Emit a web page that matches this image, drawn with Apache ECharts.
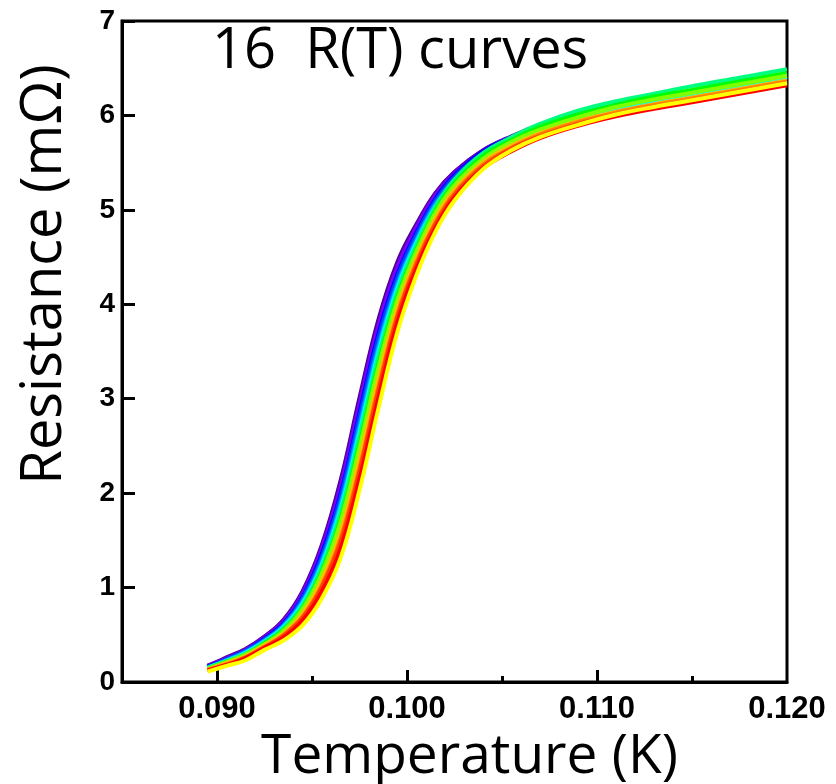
<!DOCTYPE html>
<html>
<head>
<meta charset="utf-8">
<script src="https://cdn.jsdelivr.net/npm/echarts@6/dist/echarts.min.js"></script>
<style>
html,body{margin:0;padding:0;background:#fff;}
#chart{width:836px;height:784px;}
</style>
</head>
<body>
<div id="chart"></div>
<script>
// Temperature grid (K)
const temperature = [0.0895,0.0905,0.0915,0.0925,0.0935,0.0945,0.0955,0.0965,0.0975,0.0985,0.0995,0.1005,0.1015,0.1025,0.1040,0.1055,0.1070,0.1090,0.1110,0.1130,0.1150,0.1175,0.1200];

// Resistance (mΩ) of the 16 R(T) curves
const curve01 = [0.17,0.26,0.35,0.48,0.66,0.96,1.44,2.13,3.01,3.84,4.45,4.85,5.18,5.40,5.63,5.77,5.89,6.00,6.10,6.17,6.24,6.33,6.42];
const curve02 = [0.17,0.25,0.34,0.48,0.65,0.95,1.42,2.09,2.97,3.80,4.42,4.83,5.17,5.40,5.63,5.78,5.90,6.02,6.11,6.19,6.26,6.35,6.44];
const curve03 = [0.16,0.25,0.34,0.47,0.64,0.93,1.40,2.06,2.93,3.77,4.39,4.81,5.15,5.38,5.62,5.77,5.89,6.01,6.10,6.18,6.25,6.34,6.43];
const curve04 = [0.16,0.24,0.33,0.46,0.62,0.90,1.35,1.99,2.85,3.69,4.32,4.76,5.12,5.37,5.62,5.77,5.89,6.02,6.11,6.19,6.26,6.36,6.44];
const curve05 = [0.16,0.24,0.33,0.45,0.61,0.89,1.32,1.96,2.81,3.65,4.29,4.74,5.10,5.35,5.60,5.76,5.88,6.01,6.10,6.18,6.25,6.34,6.43];
const curve06 = [0.15,0.23,0.32,0.44,0.60,0.86,1.28,1.89,2.73,3.57,4.23,4.69,5.07,5.32,5.58,5.74,5.86,5.98,6.08,6.16,6.23,6.32,6.41];
const curve07 = [0.15,0.23,0.31,0.43,0.59,0.84,1.25,1.86,2.68,3.53,4.20,4.67,5.05,5.30,5.57,5.72,5.85,5.97,6.07,6.15,6.22,6.31,6.40];
const curve08 = [0.15,0.22,0.31,0.43,0.58,0.83,1.23,1.82,2.64,3.49,4.17,4.65,5.03,5.30,5.56,5.73,5.85,5.98,6.08,6.16,6.23,6.32,6.41];
const curve09 = [0.15,0.22,0.30,0.42,0.57,0.81,1.21,1.79,2.60,3.45,4.14,4.63,5.03,5.32,5.60,5.77,5.91,6.05,6.15,6.23,6.31,6.40,6.49];
const curve10 = [0.14,0.21,0.29,0.41,0.55,0.78,1.16,1.72,2.52,3.37,4.08,4.58,4.99,5.28,5.57,5.74,5.88,6.01,6.11,6.20,6.27,6.36,6.45];
const curve11 = [0.14,0.21,0.29,0.40,0.54,0.77,1.14,1.69,2.48,3.33,4.05,4.56,4.97,5.26,5.54,5.72,5.85,5.98,6.09,6.17,6.24,6.33,6.42];
const curve12 = [0.13,0.20,0.27,0.39,0.51,0.72,1.07,1.58,2.36,3.21,3.96,4.49,4.91,5.21,5.50,5.68,5.81,5.94,6.04,6.12,6.19,6.28,6.37];
const curve13 = [0.13,0.19,0.26,0.37,0.50,0.69,1.02,1.52,2.27,3.13,3.90,4.45,4.87,5.18,5.48,5.66,5.80,5.93,6.03,6.11,6.18,6.27,6.36];
const curve14 = [0.12,0.18,0.26,0.37,0.49,0.68,1.00,1.48,2.23,3.09,3.87,4.42,4.85,5.16,5.46,5.65,5.78,5.91,6.01,6.09,6.16,6.25,6.34];
const curve15 = [0.12,0.18,0.25,0.36,0.47,0.65,0.95,1.41,2.15,3.01,3.81,4.38,4.81,5.13,5.44,5.62,5.76,5.89,5.99,6.07,6.14,6.23,6.32];
const curve16 = [0.11,0.17,0.23,0.34,0.44,0.60,0.88,1.31,2.03,2.90,3.71,4.31,4.77,5.10,5.43,5.63,5.77,5.90,6.01,6.09,6.16,6.25,6.34];

const curves = [curve01,curve02,curve03,curve04,curve05,curve06,curve07,curve08,curve09,curve10,curve11,curve12,curve13,curve14,curve15,curve16];
const curveColors = ['#4b0082','#6000c0','#8000ff','#0000ff','#0040ff','#0080ff','#00bfff','#00ffff','#00ff80','#00ff00','#80ff00','#ffbf00','#ff8000','#ff4000','#ff0000','#ffff00'];

// Axis ticks / labels
const xMajorTicks = [0.090,0.100,0.110];
const xMinorTicks = [0.095,0.105,0.115];
const xTickLabels = [0.090,0.100,0.110,0.120];
const yTickLabels = [0,1,2,3,4,5,6,7];

const chart = echarts.init(document.getElementById('chart'), null, {renderer:'canvas'});

const series = curves.map((c, i) => ({
  type: 'line',
  name: 'curve ' + (i + 1),
  xAxisIndex: 0,
  yAxisIndex: 0,
  data: temperature.map((t, j) => [t, c[j]]),
  smooth: 0.4,
  showSymbol: false,
  lineStyle: {color: curveColors[i], width: 4},
  itemStyle: {color: curveColors[i]},
  animation: false,
  z: 2
}));

const option = {
  animation: false,
  backgroundColor: '#fff',
  grid: {left: 122, right: 49, top: 21, bottom: 102, show: true, borderColor: '#000', borderWidth: 3, backgroundColor: 'transparent', containLabel: false, outerBoundsMode: 'none'},
  xAxis: [{
    type: 'value', min: 0.085, max: 0.12, interval: 0.005,
    position: 'bottom',
    axisLine: {show: true, lineStyle: {color: '#000', width: 3}},
    axisTick: {show: true, inside: true, length: 6, lineStyle: {color: '#000', width: 3}, customValues: xMinorTicks},
    axisLabel: {show: true, customValues: xTickLabels, formatter: v => Number(v).toFixed(3), color: '#000', fontFamily: 'Liberation Sans', fontWeight: 'bold', fontSize: 31, margin: 12},
    splitLine: {show: false},
    name: 'Temperature (K)', nameLocation: 'middle', nameGap: 41,
    nameTextStyle: {fontFamily: 'Open Sans', fontSize: 55, color: '#000', padding: [0, 0, 0, 30]}
  }, {
    type: 'value', min: 0.085, max: 0.12, interval: 0.005,
    position: 'bottom',
    axisLine: {show: false},
    axisTick: {show: true, inside: true, length: 12, lineStyle: {color: '#000', width: 3}, customValues: xMajorTicks},
    axisLabel: {show: false},
    splitLine: {show: false}
  }],
  yAxis: [{
    type: 'value', min: 0, max: 7, interval: 1,
    axisLine: {show: true, lineStyle: {color: '#000', width: 3}},
    axisTick: {show: true, inside: true, length: 13, lineStyle: {color: '#000', width: 3}},
    axisLabel: {show: true, color: '#000', fontFamily: 'Liberation Sans', fontWeight: 'bold', fontSize: 28, margin: 7,
      formatter: v => String(yTickLabels[yTickLabels.indexOf(v)] ?? v)},
    splitLine: {show: false},
    name: 'Resistance (mΩ)', nameLocation: 'middle', nameGap: 49, nameRotate: 90,
    nameTextStyle: {fontFamily: 'Open Sans', fontSize: 56, color: '#000', padding: [0, 0, 0, 154]}
  }],
  graphic: [{
    type: 'text', left: 212, top: 24, z: 10,
    style: {text: '16  R(T) curves', fontFamily: 'Open Sans', fontSize: 56, fill: '#000'}
  }],
  series: series
};
chart.setOption(option);
</script>
</body>
</html>
